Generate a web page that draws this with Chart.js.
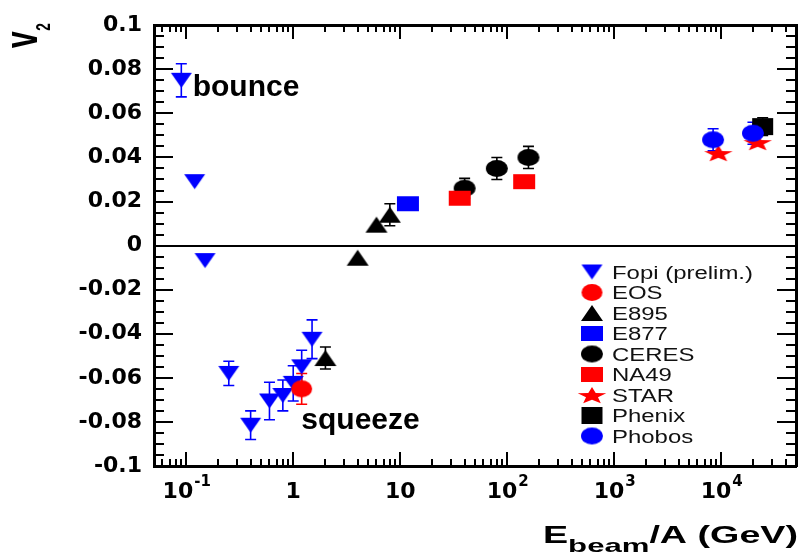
<!DOCTYPE html>
<html>
<head>
<meta charset="utf-8">
<script src="https://cdn.jsdelivr.net/npm/chart.js@4.4.1/dist/chart.umd.min.js"></script>
<style>
  html, body { margin: 0; padding: 0; background: #fff; }
</style>
</head>
<body>
<canvas id="v2chart" width="807" height="560"></canvas>
<script>
// v2 vs E_beam/A
const fopiE = [0.09, 0.12, 0.15, 0.25, 0.4, 0.6, 0.8, 1.0, 1.2, 1.5];
const fopiV2 = [0.075, 0.029, -0.0068, -0.058, -0.0815, -0.0705, -0.068, -0.0625, -0.055, -0.0425];
const fopiErr = [0.0075, 0, 0, 0.0055, 0.0065, 0.0085, 0.007, 0.008, 0.0075, 0.0088];

const eosE = [1.2];
const eosV2 = [-0.065];
const eosErr = [0.007];

const e895E = [2, 4, 6, 8];
const e895V2 = [-0.051, -0.0055, 0.0095, 0.014];
const e895Err = [0.005, 0, 0, 0.005];

const e877E = [11.8];
const e877V2 = [0.019];
const e877Err = [0];

const ceresE = [40, 80, 158];
const ceresV2 = [0.026, 0.035, 0.040];
const ceresErr = [0.0045, 0.005, 0.005];

const na49E = [36, 144];
const na49V2 = [0.0215, 0.029];
const na49Err = [0, 0];

const starE = [9400, 21900];
const starV2 = [0.042, 0.047];
const starErr = [0, 0];

const phenixE = [24400];
const phenixV2 = [0.054];
const phenixErr = [0.004];

const phobosE = [8400, 19800];
const phobosV2 = [0.048, 0.051];
const phobosErr = [0.005, 0.005];

// x tick labels: base and exponent ('' = no exponent)
const xTickValues = [0.1, 1, 10, 100, 1000, 10000];
const xTickBase = ['10', '1', '10', '10', '10', '10'];
const xTickExp = ['-1', '', '', '2', '3', '4'];

// marker glyphs (the figure's markers are a bit wider than tall)
function marker(shape, color, w, h) {
  const c = document.createElement('canvas');
  c.width = w + 2;
  c.height = h + 2;
  const g = c.getContext('2d');
  g.fillStyle = color;
  g.translate(1, 1);
  g.beginPath();
  if (shape === 'down') {
    g.moveTo(0, 0); g.lineTo(w, 0); g.lineTo(w / 2, h);
  } else if (shape === 'up') {
    g.moveTo(w / 2, 0); g.lineTo(w, h); g.lineTo(0, h);
  } else if (shape === 'circle') {
    g.ellipse(w / 2, h / 2, w / 2, h / 2, 0, 0, Math.PI * 2);
  } else if (shape === 'square') {
    g.rect(0, 0, w, h);
  } else if (shape === 'star') {
    for (let k = 0; k < 10; k++) {
      const r = k % 2 ? 0.42 : 1;
      const a = -Math.PI / 2 + k * Math.PI / 5;
      g.lineTo(w / 2 + Math.cos(a) * r * w / 2, h / 2 + 1 + Math.sin(a) * r * h / 2);
    }
  }
  g.closePath();
  g.fill();
  return c;
}

const BLUE = '#0000ff', RED = '#ff0000', BLACK = '#000000';

function series(label, xs, ys, errs, color, glyph) {
  return {
    label: label,
    data: xs.map((x, i) => ({ x: x, y: ys[i] })),
    errors: errs,
    errColor: color,
    pointStyle: glyph,
    pointRadius: 10,
    backgroundColor: color,
    borderColor: color,
    showLine: false
  };
}

const datasets = [
  series('Fopi (prelim.)', fopiE, fopiV2, fopiErr, BLUE, marker('down', BLUE, 21, 15)),
  series('EOS', eosE, eosV2, eosErr, RED, marker('circle', RED, 21, 17)),
  series('E895', e895E, e895V2, e895Err, BLACK, marker('up', BLACK, 22, 16)),
  series('E877', e877E, e877V2, e877Err, BLUE, marker('square', BLUE, 22, 15)),
  series('CERES', ceresE, ceresV2, ceresErr, BLACK, marker('circle', BLACK, 22, 17)),
  series('NA49', na49E, na49V2, na49Err, RED, marker('square', RED, 22, 15)),
  series('STAR', starE, starV2, starErr, RED, marker('star', RED, 30, 18)),
  series('Phenix', phenixE, phenixV2, phenixErr, BLACK, marker('square', BLACK, 21, 17)),
  series('Phobos', phobosE, phobosV2, phobosErr, BLUE, marker('circle', BLUE, 22, 17))
];
datasets.forEach((d, i) => { d.order = datasets.length - i; });

// zero line + error bars under the markers
const errorBars = {
  id: 'errorBars',
  beforeDatasetsDraw(chart) {
    const { ctx, chartArea: a, scales: { x, y } } = chart;
    ctx.save();
    ctx.fillStyle = '#000';
    const y0 = Math.round(y.getPixelForValue(0));
    ctx.fillRect(a.left, y0 - 1, a.right - a.left, 2);

    ctx.lineWidth = 1.6;
    chart.data.datasets.forEach(ds => {
      ctx.strokeStyle = ds.errColor;
      ds.data.forEach((p, j) => {
        const e = ds.errors[j];
        if (!e) return;
        const px = x.getPixelForValue(p.x);
        const top = y.getPixelForValue(p.y + e);
        const bot = y.getPixelForValue(p.y - e);
        ctx.beginPath();
        ctx.moveTo(px, top); ctx.lineTo(px, bot);
        ctx.moveTo(px - 5.5, top); ctx.lineTo(px + 5.5, top);
        ctx.moveTo(px - 5.5, bot); ctx.lineTo(px + 5.5, bot);
        ctx.stroke();
      });
    });
    ctx.restore();
  }
};

// ROOT-style frame with ticks pointing inwards, titles, text, legend
const rootFrame = {
  id: 'rootFrame',
  afterDraw(chart, args, opts) {
    const { ctx, chartArea: a, scales: { x, y } } = chart;
    const L0 = Math.round(a.left), R0 = Math.round(a.right);
    const T0 = Math.round(a.top), B0 = Math.round(a.bottom);
    ctx.save();
    ctx.fillStyle = opts.frameColor;
    // frame
    ctx.fillRect(L0 - 1, T0 - 1, R0 - L0 + 2, 3);
    ctx.fillRect(L0 - 1, B0 - 1, R0 - L0 + 2, 3);
    ctx.fillRect(L0 - 1, T0 - 1, 3, B0 - T0 + 2);
    ctx.fillRect(R0 - 1, T0 - 1, 3, B0 - T0 + 2);

    // y ticks, inwards on both sides
    for (let k = -20; k <= 20; k++) {
      const py = Math.round(y.getPixelForValue(k * 0.005));
      const len = k % 4 === 0 ? 19 : 10;
      ctx.fillRect(L0, py - 1, len, 2);
      ctx.fillRect(R0 - len, py - 1, len, 2);
    }
    // x ticks (log), inwards top and bottom
    for (let d = -2; d <= 4; d++) {
      for (let m = 1; m <= 9; m++) {
        const v = m * Math.pow(10, d);
        if (v < x.min || v > x.max) continue;
        const px = Math.round(x.getPixelForValue(v));
        const len = m === 1 ? 14 : 7;
        ctx.fillRect(px - 1, B0 - len, 2, len);
        ctx.fillRect(px - 1, T0, 2, len);
      }
    }
    ctx.fillStyle = '#000';

    // x tick labels with real superscripts
    const base = 'bold 22px "DejaVu Sans", sans-serif';
    const sup = 'bold 15px "DejaVu Sans", sans-serif';
    xTickValues.forEach((v, i) => {
      const px = x.getPixelForValue(v);
      ctx.font = base;
      const wb = ctx.measureText(xTickBase[i]).width;
      ctx.font = sup;
      const we = xTickExp[i] ? ctx.measureText(xTickExp[i]).width : 0;
      const left = px - (wb + we) / 2;
      ctx.font = base;
      ctx.fillText(xTickBase[i], left, B0 + 32);
      if (xTickExp[i]) {
        ctx.font = sup;
        ctx.fillText(xTickExp[i], left + wb + 1, B0 + 20);
      }
    });

    // y title: v_2, rotated
    ctx.save();
    ctx.translate(37, 48);
    ctx.rotate(-Math.PI / 2);
    ctx.scale(0.65, 1);
    ctx.font = 'bold 46px "Liberation Sans", Arial, sans-serif';
    ctx.fillText('v', 0, 0);
    const vw = ctx.measureText('v').width;
    ctx.font = 'bold 21px "Liberation Sans", Arial, sans-serif';
    ctx.fillText('2', vw + 1, 13);
    ctx.restore();

    // x title: E_beam/A (GeV)
    ctx.save();
    const big = 'bold 23px "Liberation Sans", Arial, sans-serif';
    const small = 'bold 19px "Liberation Sans", Arial, sans-serif';
    ctx.font = big;
    const wE = ctx.measureText('E').width;
    const wRest = ctx.measureText('/A (GeV)').width;
    ctx.font = small;
    const wSub = ctx.measureText('beam').width;
    const sx = 255 / (wE + wSub + wRest);
    ctx.translate(543, 543);
    ctx.scale(sx, 1);
    ctx.font = big;
    ctx.fillText('E', 0, 0);
    ctx.font = small;
    ctx.fillText('beam', wE, 9);
    ctx.font = big;
    ctx.fillText('/A (GeV)', wE + wSub, 0);
    ctx.restore();

    // annotations
    ctx.font = 'bold 30px "Liberation Sans", Arial, sans-serif';
    opts.notes.forEach(n => {
      ctx.fillText(n.text, x.getPixelForValue(n.x), y.getPixelForValue(n.y));
    });

    // legend
    const L = opts.legend;
    chart.data.datasets.forEach((ds, i) => {
      const cy = L.y + i * L.gap;
      const g = ds.pointStyle;
      ctx.drawImage(g, L.x - g.width / 2, cy - g.height / 2);
      ctx.save();
      ctx.translate(L.textX, cy + 6.5);
      ctx.scale(1.33, 1);
      ctx.fillStyle = '#111';
      ctx.font = '18px "Liberation Sans", Arial, sans-serif';
      ctx.fillText(ds.label, 0, 0);
      ctx.restore();
    });
    ctx.restore();
  }
};

const tickFont = { family: '"DejaVu Sans", sans-serif', weight: 'bold', size: 22 };

new Chart(document.getElementById('v2chart'), {
  type: 'scatter',
  data: { datasets: datasets },
  options: {
    responsive: false,
    animation: false,
    layout: { padding: { top: 20, right: 3, left: 0, bottom: 0 } },
    plugins: {
      legend: { display: false },
      tooltip: { enabled: false },
      rootFrame: {
        frameColor: '#000',
        notes: [
          { text: 'bounce', x: 0.115, y: 0.068 },
          { text: 'squeeze', x: 1.19, y: -0.083 }
        ],
        legend: { x: 592, y: 272, gap: 20.5, textX: 612 }
      }
    },
    scales: {
      x: {
        type: 'logarithmic',
        min: 0.05,
        max: 50000,
        grid: { display: false, drawTicks: false },
        border: { display: false },
        afterBuildTicks: s => { s.ticks = xTickValues.map(v => ({ value: v })); },
        ticks: { display: false },
        afterFit: s => { s.height = 94; }
      },
      y: {
        min: -0.1,
        max: 0.1,
        grid: { display: false, drawTicks: false },
        border: { display: false },
        ticks: {
          stepSize: 0.02,
          padding: 12,
          color: '#000',
          font: tickFont,
          callback: v => String(+v.toFixed(2))
        },
        afterFit: s => { s.width = 154; }
      }
    }
  },
  plugins: [errorBars, rootFrame]
});
</script>
</body>
</html>
